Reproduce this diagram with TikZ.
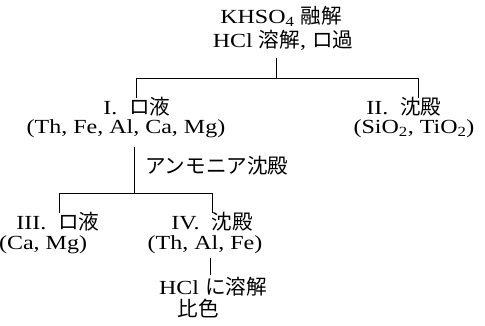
\documentclass[tikz,border=0pt]{standalone}
\usepackage{fontspec}
\setmainfont{Liberation Serif}[FakeStretch=1.2]
\newfontfamily\jp{Noto Sans CJK JP}[Scale=1.03]
\begin{document}
\begin{tikzpicture}[x=1pt,y=-1pt,
  txt/.style={inner sep=0pt,anchor=center,font=\fontsize{20}{22}\selectfont},
  ln/.style={line width=0.8pt}]
\useasboundingbox (0,0) rectangle (485,325);
% top
\node[txt] (t1) at (281,16) {KHSO\textsubscript{4} {\jp 融解}};
\node[txt] (t2) at (283,40) {HCl {\jp 溶解}, {\jp ロ過}};
% level 1
\node[txt] (n1a) at (137,107) {I.\ \ {\jp ロ液}};
\node[txt] (n1b) at (126,129) {(Th, Fe, Al, Ca, Mg)};
\node[txt] (n2a) at (404,107) {II.\ \ {\jp 沈殿}};
\node[txt] (n2b) at (414,129) {(SiO\textsubscript{2}, TiO\textsubscript{2})};
\node[txt,anchor=west] (lab) at (145,166) {\jp アンモニア沈殿};
% level 2
\node[txt] (n3a) at (58,222) {III.\ \ {\jp ロ液}};
\node[txt] (n3b) at (43,245) {(Ca, Mg)};
\node[txt] (n4a) at (212,222) {IV.\ \ {\jp 沈殿}};
\node[txt] (n4b) at (205,245) {(Th, Al, Fe)};
\node[txt] (n5a) at (213,287) {HCl {\jp に溶解}};
\node[txt] (n5b) at (198,309) {\jp 比色};
% junction coordinates
\coordinate (a0) at (276,58);
\coordinate (a1) at (276,78);
\coordinate (aL) at (136,78);
\coordinate (aR) at (418,78);
\coordinate (aLd) at (136,98);
\coordinate (aRd) at (418,98);
\coordinate (b0) at (134,147);
\coordinate (b1) at (134,193);
\coordinate (bL) at (59,193);
\coordinate (bR) at (212,193);
\coordinate (bLd) at (59,213);
\coordinate (bRd) at (212,213);
\coordinate (c0) at (210,258);
\coordinate (c1) at (210,275);
\draw[ln] (a0) -- (a1);
\draw[ln] (aL) -- (aR);
\draw[ln] (aL) -- (aLd);
\draw[ln] (aR) -- (aRd);
\draw[ln] (b0) -- (b1);
\draw[ln] (bL) -- (bR);
\draw[ln] (bL) -- (bLd);
\draw[ln] (bR) -- (bRd);
\draw[ln] (c0) -- (c1);
\end{tikzpicture}
\end{document}
